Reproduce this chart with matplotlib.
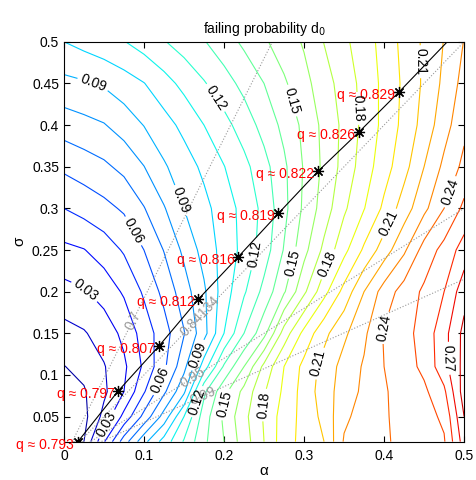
import numpy as np
import matplotlib
matplotlib.use('Agg')
import matplotlib.pyplot as plt
from matplotlib.colors import Normalize

plt.rcParams['font.family'] = ['Liberation Sans', 'DejaVu Sans']

# ----------------------------
# data
# ----------------------------
alpha = [0.000, 0.025, 0.050, 0.075, 0.100, 0.125, 0.150, 0.175, 0.200, 0.225, 0.250,
         0.275, 0.300, 0.325, 0.350, 0.375, 0.400, 0.425, 0.450, 0.475, 0.500]
sigma = [0.02, 0.05, 0.08, 0.11, 0.15, 0.20, 0.25, 0.30, 0.35, 0.40, 0.45, 0.50]

# failing probability d0, one row per sigma
d0 = [
    [0.0020, 0.0100, 0.0390, 0.0650, 0.0870, 0.1040, 0.1210, 0.1380, 0.1500, 0.1650, 0.1800, 0.1960, 0.2030, 0.2100, 0.2310, 0.2350, 0.2390, 0.2420, 0.2450, 0.2490, 0.2750],
    [0.0040, 0.0070, 0.0230, 0.0430, 0.0630, 0.0840, 0.1100, 0.1350, 0.1520, 0.1670, 0.1810, 0.1950, 0.2030, 0.2130, 0.2280, 0.2340, 0.2390, 0.2430, 0.2460, 0.2520, 0.2800],
    [0.0060, 0.0090, 0.0180, 0.0300, 0.0490, 0.0680, 0.0880, 0.1280, 0.1470, 0.1630, 0.1790, 0.1920, 0.2040, 0.2150, 0.2250, 0.2320, 0.2390, 0.2440, 0.2480, 0.2580, 0.2850],
    [0.0097, 0.0130, 0.0193, 0.0281, 0.0418, 0.0579, 0.0769, 0.1050, 0.1314, 0.1500, 0.1727, 0.1900, 0.2028, 0.2137, 0.2237, 0.2311, 0.2400, 0.2456, 0.2524, 0.2664, 0.2833],
    [0.0165, 0.0191, 0.0244, 0.0325, 0.0443, 0.0557, 0.0694, 0.0864, 0.1100, 0.1300, 0.1467, 0.1744, 0.1930, 0.2072, 0.2180, 0.2280, 0.2409, 0.2466, 0.2538, 0.2664, 0.2830],
    [0.0266, 0.0290, 0.0340, 0.0413, 0.0515, 0.0629, 0.0754, 0.0884, 0.1050, 0.1186, 0.1331, 0.1488, 0.1680, 0.1867, 0.2033, 0.2200, 0.2344, 0.2443, 0.2517, 0.2600, 0.2760],
    [0.0377, 0.0396, 0.0446, 0.0511, 0.0600, 0.0704, 0.0822, 0.0938, 0.1037, 0.1131, 0.1247, 0.1407, 0.1569, 0.1724, 0.1871, 0.2017, 0.2150, 0.2283, 0.2440, 0.2533, 0.2645],
    [0.0500, 0.0535, 0.0571, 0.0614, 0.0695, 0.0792, 0.0900, 0.0971, 0.1050, 0.1133, 0.1228, 0.1371, 0.1520, 0.1647, 0.1783, 0.1896, 0.2021, 0.2150, 0.2275, 0.2400, 0.2524],
    [0.0620, 0.0650, 0.0681, 0.0727, 0.0798, 0.0888, 0.0954, 0.1021, 0.1097, 0.1171, 0.1265, 0.1381, 0.1509, 0.1622, 0.1735, 0.1850, 0.1957, 0.2065, 0.2200, 0.2323, 0.2426],
    [0.0746, 0.0770, 0.0794, 0.0844, 0.0903, 0.0962, 0.1026, 0.1100, 0.1168, 0.1246, 0.1336, 0.1427, 0.1525, 0.1627, 0.1725, 0.1828, 0.1928, 0.2029, 0.2138, 0.2260, 0.2374],
    [0.0873, 0.0889, 0.0912, 0.0954, 0.0997, 0.1062, 0.1128, 0.1192, 0.1259, 0.1329, 0.1400, 0.1486, 0.1568, 0.1656, 0.1745, 0.1833, 0.1926, 0.2019, 0.2117, 0.2223, 0.2336],
    [0.1000, 0.1032, 0.1064, 0.1096, 0.1144, 0.1194, 0.1244, 0.1294, 0.1355, 0.1419, 0.1486, 0.1548, 0.1611, 0.1703, 0.1779, 0.1853, 0.1936, 0.2031, 0.2117, 0.2204, 0.2304],
]

plain_levels = [0.01, 0.02, 0.04, 0.05, 0.07, 0.08, 0.10, 0.11, 0.13, 0.14,
                0.16, 0.17, 0.19, 0.20, 0.22, 0.23, 0.25, 0.26, 0.28]
label_levels = [0.03, 0.06, 0.09, 0.12, 0.15, 0.18, 0.21, 0.24, 0.27]

# the q curve with its stars
q_alpha = [0.0175, 0.068, 0.119, 0.168, 0.218, 0.268, 0.318, 0.369, 0.419]
q_sigma = [0.020, 0.081, 0.135, 0.191, 0.242, 0.294, 0.345, 0.392, 0.440]
q_text = ['0.793', '0.797', '0.807', '0.812', '0.816', '0.819', '0.822', '0.826', '0.829']
q_end = (0.479, 0.5)

# grey rays sigma = slope * alpha
ray_slope = [1.92, 1.0, 0.60, 0.43]
ray_text = ['0.7', '0.84134', '0.95', '0.99']
ray_label_alpha = [0.086, 0.170, 0.161, 0.174]

# ----------------------------
# layout
# ----------------------------
clabel_pos = [(0.03, 0.205), (0.055, 0.04),
              (0.087, 0.273), (0.12, 0.094),
              (0.033, 0.44), (0.147, 0.31), (0.167, 0.124),
              (0.19, 0.433), (0.243, 0.244), (0.16, 0.07),
              (0.2875, 0.43), (0.289, 0.234), (0.2, 0.065),
              (0.368, 0.42), (0.334, 0.231), (0.249, 0.064),
              (0.445, 0.476), (0.408, 0.281), (0.318, 0.114),
              (0.485, 0.319), (0.395, 0.158),
              (0.46, 0.12)]

fig = plt.figure(figsize=(4.77, 4.80), dpi=100)
ax = fig.add_axes([0.134, 0.080, 0.839, 0.833])

A, S = np.meshgrid(alpha, sigma)
Z = np.array(d0)
norm = Normalize(0.0, 0.3)
ax.contour(A, S, Z, levels=plain_levels, cmap='jet', norm=norm, linewidths=0.8)
cs = ax.contour(A, S, Z, levels=label_levels, cmap='jet', norm=norm, linewidths=0.8)
ax.clabel(cs, manual=clabel_pos, inline=True, inline_spacing=3,
          fmt=lambda v: f'{v:.2f}', fontsize=10, colors='k')

# grey rays
for s, t, la in zip(ray_slope, ray_text, ray_label_alpha):
    ax.plot([0, 0.6], [0, 0.6 * s], ':', color='0.6', lw=0.8)
    ax.text(la, la * s, t, color='0.6', fontsize=10, ha='center', va='center',
            rotation=np.degrees(np.arctan(s)), transform_rotates_text=True,
            rotation_mode='anchor')

# q curve
ax.plot(q_alpha + [q_end[0]], q_sigma + [q_end[1]], 'k-', lw=0.8)
ax.plot(q_alpha, q_sigma, 'k', ls='none', marker=(8, 2, 0), ms=8, mew=0.9)
for a, s, t in zip(q_alpha, q_sigma, q_text):
    ax.annotate('q \u2248 ' + t, (a, s), xytext=(-4, -3), textcoords='offset pixels',
                ha='right', va='center', color='red', fontsize=10)

ax.set_xlim(0, 0.5)
ax.set_ylim(0.02, 0.5)
ax.set_xticks([0, 0.1, 0.2, 0.3, 0.4, 0.5])
ax.set_xticklabels(['0', '0.1', '0.2', '0.3', '0.4', '0.5'])
ax.set_yticks([0.05, 0.1, 0.15, 0.2, 0.25, 0.3, 0.35, 0.4, 0.45, 0.5])
ax.set_yticklabels(['0.05', '0.1', '0.15', '0.2', '0.25', '0.3', '0.35', '0.4', '0.45', '0.5'])
ax.tick_params(direction='in', top=True, right=True, labelsize=10, length=4)
ax.tick_params(axis='x', pad=5)
ax.set_xlabel('\u03b1', fontsize=11, labelpad=1)
ax.set_ylabel('\u03c3', fontsize=11)
ax.set_title('failing probability d$_0$', fontsize=10)

fig.savefig('out.png', dpi=100)
